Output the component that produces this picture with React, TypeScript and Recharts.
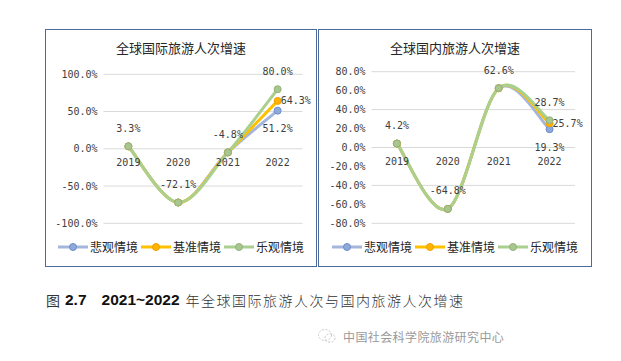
import { CartesianGrid, LabelList, Line, LineChart, XAxis, YAxis } from "recharts"

const years = ["2019", "2020", "2021", "2022"]

const intlPessimistic = [3.3, -72.1, -4.8, 51.2]
const intlBaseline = [3.3, -72.1, -4.8, 64.3]
const intlOptimistic = [3.3, -72.1, -4.8, 80.0]
const intlTicks = [-100, -50, 0, 50, 100]

const domPessimistic = [4.2, -64.8, 62.6, 19.3]
const domBaseline = [4.2, -64.8, 62.6, 25.7]
const domOptimistic = [4.2, -64.8, 62.6, 28.7]
const domTicks = [-80, -60, -40, -20, 0, 20, 40, 60, 80]

const scenarioNames = ["悲观情境", "基准情境", "乐观情境"]

const MONO = "'DejaVu Sans Mono', monospace"
const CJK = "'Noto Sans CJK SC', sans-serif"
const TEXT = "#404040"

const series = [
  { key: "p", line: "#a4b6dc", dot: "#8eaadb", edge: "#6f8dc8", labelAt: "bottom" },
  { key: "b", line: "#ffc000", dot: "#ffb400", edge: "#f0a000", labelAt: "right" },
  { key: "o", line: "#a9d08e", dot: "#a9c68f", edge: "#93b37a", labelAt: "top" },
]

// Excel-style smoothing (Catmull-Rom through every point)
const excelSmooth = (ctx: any) => {
  let pts: [number, number][] = []
  return {
    areaStart() {},
    areaEnd() {},
    lineStart() {
      pts = []
    },
    lineEnd() {
      if (!pts.length) return
      ctx.moveTo(pts[0][0], pts[0][1])
      for (let i = 0; i < pts.length - 1; i++) {
        const p0 = pts[Math.max(0, i - 1)]
        const p1 = pts[i]
        const p2 = pts[i + 1]
        const p3 = pts[Math.min(pts.length - 1, i + 2)]
        ctx.bezierCurveTo(
          p1[0] + (p2[0] - p0[0]) / 6,
          p1[1] + (p2[1] - p0[1]) / 6,
          p2[0] - (p3[0] - p1[0]) / 6,
          p2[1] - (p3[1] - p1[1]) / 6,
          p2[0],
          p2[1]
        )
      }
    },
    point(x: number, y: number) {
      pts.push([x, y])
    },
  }
}

const pct = (v: number) => `${v.toFixed(1)}%`

const makeLabel = (where: string, onlyLast: boolean) => (props: any) => {
  const x = props.x ?? props.viewBox?.x
  const y = props.y ?? props.viewBox?.y
  const last = props.index === years.length - 1
  if (onlyLast && !last) return null
  if (x == null || y == null || props.value == null) return null
  let tx = x
  let ty = y - 18
  let anchor: "middle" | "start" = "middle"
  if (where === "bottom") ty = y + 18
  if (where === "right") {
    tx = x + 3
    ty = y
    anchor = "start"
  }
  return (
    <text
      x={tx}
      y={ty}
      textAnchor={anchor}
      dominantBaseline="central"
      fontSize={10}
      fontFamily={MONO}
      fill={TEXT}
    >
      {pct(Number(props.value))}
    </text>
  )
}

type PanelProps = {
  left: number
  width: number
  title: string
  values: number[][]
  ticks: number[]
  top: number
  right: number
  yWidth: number
}

const H = 238
const BOTTOM = 43.7

const Panel = ({ left, width, title, values, ticks, top, right, yWidth }: PanelProps) => {
  const data = years.map((year, i) => ({
    year,
    p: values[0][i],
    b: values[1][i],
    o: values[2][i],
  }))
  const plotH = H - top - BOTTOM
  const zeroY = top + plotH / 2
  const yearTick = (p: any) => (
    <text
      key={p.payload.value}
      x={p.x}
      y={zeroY + 14}
      textAnchor="middle"
      dominantBaseline="central"
      fontSize={10}
      fontFamily={MONO}
      fill={TEXT}
    >
      {p.payload.value}
    </text>
  )
  return (
    <div style={{ position: "absolute", left, top: 29, width, height: H }}>
      <LineChart
        width={width}
        height={H}
        data={data}
        margin={{ top, right, bottom: BOTTOM - 1, left: 0 }}
      >
        <CartesianGrid vertical={false} stroke="#d9d9d9" />
        <XAxis
          dataKey="year"
          scale="band"
          height={1}
          axisLine={false}
          tickLine={false}
          tick={yearTick}
          interval={0}
        />
        <YAxis
          width={yWidth}
          domain={[ticks[0], ticks[ticks.length - 1]]}
          ticks={ticks}
          axisLine={false}
          tickLine={false}
          tickSize={0}
          tickMargin={6}
          tickFormatter={pct}
          tick={{ fontSize: 10, fontFamily: MONO, fill: TEXT }}
        />
        {series.map((s) => (
          <Line
            key={s.key}
            dataKey={s.key}
            type={excelSmooth as any}
            stroke={s.line}
            strokeWidth={3}
            dot={{ r: 3.5, fill: s.dot, stroke: s.edge, strokeWidth: 1 }}
            activeDot={false}
            isAnimationActive={false}
          >
            <LabelList
              dataKey={s.key}
              content={makeLabel(s.labelAt, s.key !== "o")}
            />
          </Line>
        ))}
      </LineChart>
      <div
        style={{
          position: "absolute",
          left: 0,
          top: 10,
          width: "100%",
          height: 18,
          lineHeight: "18px",
          textAlign: "center",
          fontFamily: CJK,
          fontSize: 13,
          color: "#262626",
        }}
      >
        {title}
      </div>
      <div
        style={{
          position: "absolute",
          left: 0,
          top: 209.7,
          width: "100%",
          height: 16,
          display: "flex",
          justifyContent: "center",
          alignItems: "center",
          fontFamily: CJK,
          fontSize: 12,
          color: "#262626",
        }}
      >
        {series.map((s, i) => (
          <div key={s.key} style={{ display: "flex", alignItems: "center", marginRight: i < 2 ? 3 : 0 }}>
            <svg width={30} height={16}>
              <line x1={0} x2={30} y1={8} y2={8} stroke={s.line} strokeWidth={3} />
              <circle cx={15} cy={8} r={3.5} fill={s.dot} stroke={s.edge} strokeWidth={1} />
            </svg>
            <span style={{ marginLeft: 2, lineHeight: "16px" }}>{scenarioNames[i]}</span>
          </div>
        ))}
      </div>
      <div
        style={{
          position: "absolute",
          inset: 0,
          border: "1px solid #4d6b9a",
          boxSizing: "border-box",
          pointerEvents: "none",
        }}
      />
    </div>
  )
}

export default function App() {
  return (
    <div
      style={{
        position: "absolute",
        left: 0,
        top: 0,
        width: 621,
        height: 361,
        background: "#fff",
        overflow: "hidden",
      }}
    >
      <Panel
        left={45}
        width={272}
        title="全球国际旅游人次增速"
        values={[intlPessimistic, intlBaseline, intlOptimistic]}
        ticks={intlTicks}
        top={45.3}
        right={14.5}
        yWidth={58.5}
      />
      <Panel
        left={318}
        width={274}
        title="全球国内旅游人次增速"
        values={[domPessimistic, domBaseline, domOptimistic]}
        ticks={domTicks}
        top={42.7}
        right={17}
        yWidth={53.5}
      />
      <div
        style={{
          position: "absolute",
          left: 46,
          top: 290,
          height: 20,
          lineHeight: "20px",
          whiteSpace: "nowrap",
          display: "flex",
          alignItems: "center",
        }}
      >
        <span style={{ fontFamily: CJK, fontSize: 14, color: "#333" }}>图</span>
        <span
          style={{
            fontFamily: "'Liberation Sans', Arial, sans-serif",
            fontWeight: "bold",
            fontSize: 15.5,
            color: "#111",
            marginLeft: 5,
          }}
        >
          2.7
        </span>
        <span
          style={{
            fontFamily: "'Liberation Sans', Arial, sans-serif",
            fontWeight: "bold",
            fontSize: 15.5,
            color: "#111",
            marginLeft: 15,
          }}
        >
          2021~2022
        </span>
        <span
          style={{
            fontFamily: CJK,
            fontSize: 14,
            fontWeight: 300,
            color: "#333",
            letterSpacing: 1.5,
            marginLeft: 6,
          }}
        >
          年全球国际旅游人次与国内旅游人次增速
        </span>
      </div>
      <svg style={{ position: "absolute", left: 317, top: 326 }} width={20} height={20}>
        <ellipse cx={8} cy={9} rx={6.5} ry={5.5} fill="none" stroke="#c8c8c8" strokeWidth={1} strokeDasharray="2 1.5" />
        <ellipse cx={13} cy={12} rx={5} ry={4.2} fill="none" stroke="#c8c8c8" strokeWidth={1} strokeDasharray="2 1.5" />
      </svg>
      <div
        style={{
          position: "absolute",
          left: 343,
          top: 328,
          height: 18,
          lineHeight: "18px",
          fontFamily: CJK,
          fontSize: 12,
          letterSpacing: 0.4,
          color: "#9a9a9a",
          whiteSpace: "nowrap",
        }}
      >
        中国社会科学院旅游研究中心
      </div>
    </div>
  )
}
